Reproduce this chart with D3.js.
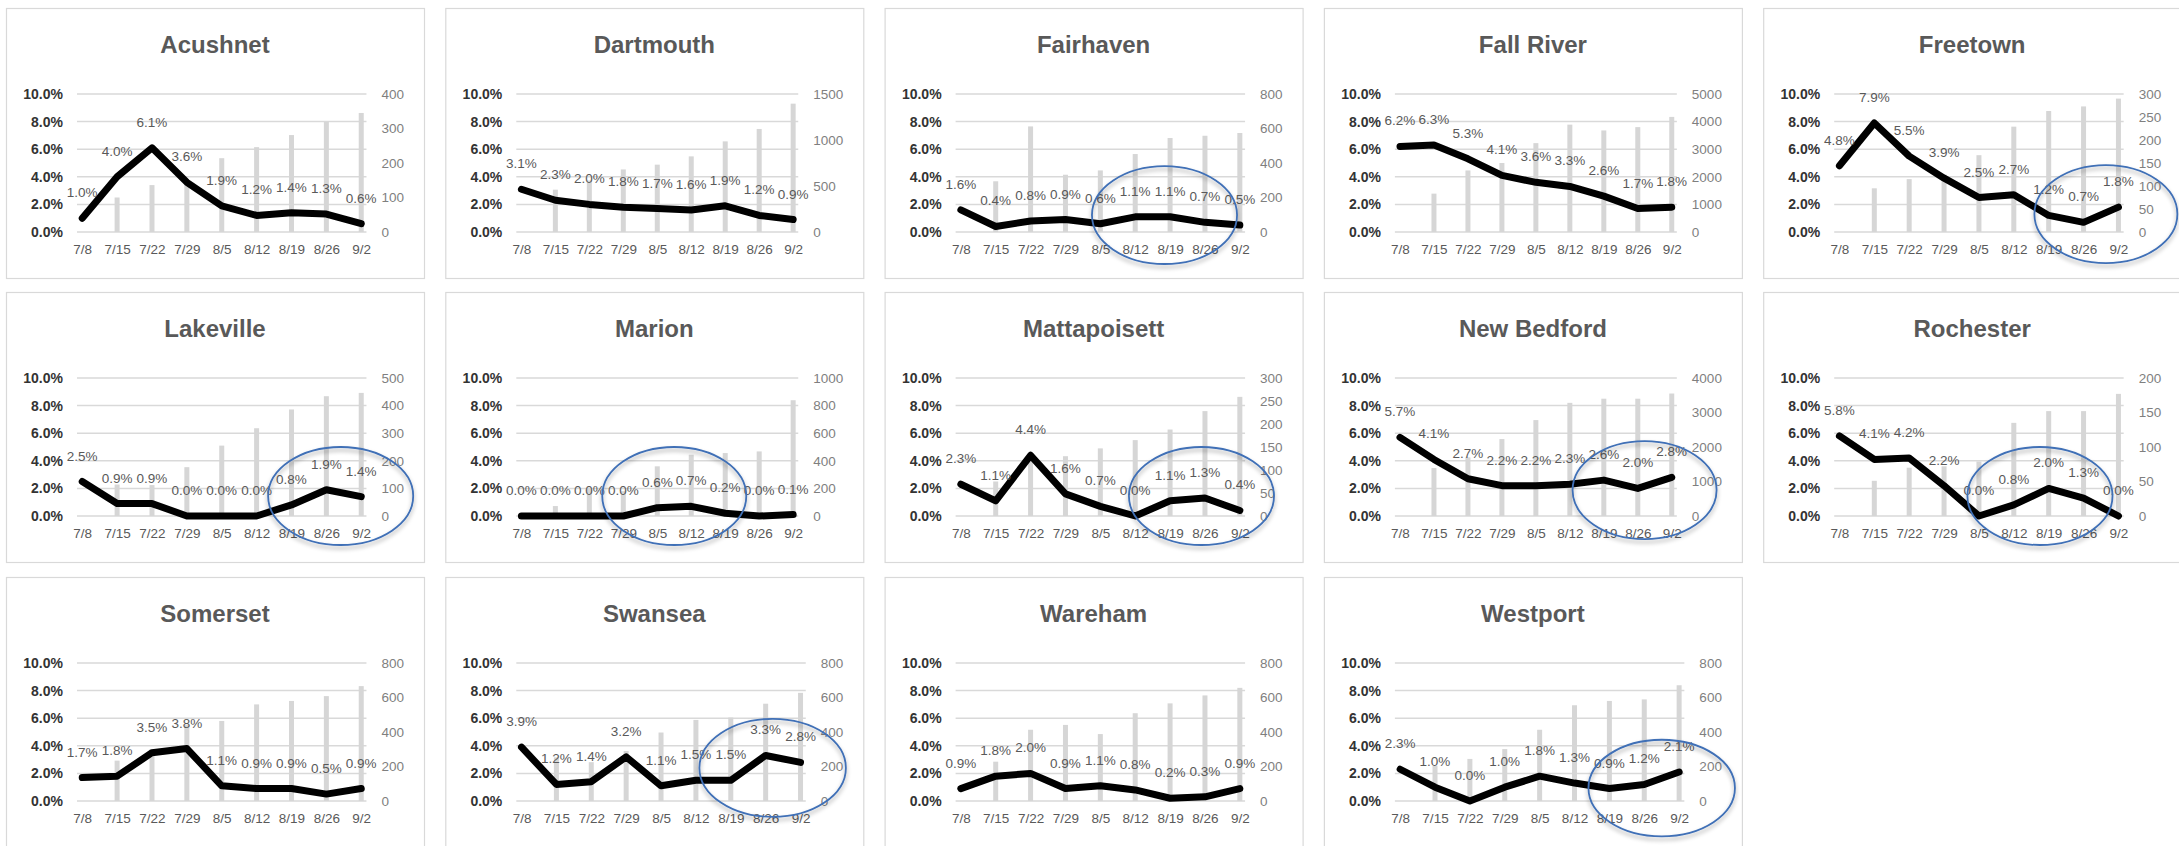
<!DOCTYPE html>
<html>
<head>
<meta charset="utf-8">
<script src="https://cdn.jsdelivr.net/npm/d3@7"></script>
<style>
  html, body { margin: 0; padding: 0; background: #fff; }
  svg { display: block; font-family: "Liberation Sans", Arial, sans-serif; }
</style>
</head>
<body>
<svg id="chart" width="2179" height="846"></svg>
<script>
// ---- data ----------------------------------------------------------------
const weeks = ["7/8", "7/15", "7/22", "7/29", "8/5", "8/12", "8/19", "8/26", "9/2"];

const towns = ["Acushnet", "Dartmouth", "Fairhaven", "Fall River", "Freetown",
               "Lakeville", "Marion", "Mattapoisett", "New Bedford", "Rochester",
               "Somerset", "Swansea", "Wareham", "Westport"];

// weekly test positivity (fraction)
const acushnetRate     = [0.010, 0.040, 0.061, 0.036, 0.019, 0.012, 0.014, 0.013, 0.006];
const dartmouthRate    = [0.031, 0.023, 0.020, 0.018, 0.017, 0.016, 0.019, 0.012, 0.009];
const fairhavenRate    = [0.016, 0.004, 0.008, 0.009, 0.006, 0.011, 0.011, 0.007, 0.005];
const fallRiverRate    = [0.062, 0.063, 0.053, 0.041, 0.036, 0.033, 0.026, 0.017, 0.018];
const freetownRate     = [0.048, 0.079, 0.055, 0.039, 0.025, 0.027, 0.012, 0.007, 0.018];
const lakevilleRate    = [0.025, 0.009, 0.009, 0.000, 0.000, 0.000, 0.008, 0.019, 0.014];
const marionRate       = [0.000, 0.000, 0.000, 0.000, 0.006, 0.007, 0.002, 0.000, 0.001];
const mattapoisettRate = [0.023, 0.011, 0.044, 0.016, 0.007, 0.000, 0.011, 0.013, 0.004];
const newBedfordRate   = [0.057, 0.041, 0.027, 0.022, 0.022, 0.023, 0.026, 0.020, 0.028];
const rochesterRate    = [0.058, 0.041, 0.042, 0.022, 0.000, 0.008, 0.020, 0.013, 0.000];
const somersetRate     = [0.017, 0.018, 0.035, 0.038, 0.011, 0.009, 0.009, 0.005, 0.009];
const swanseaRate      = [0.039, 0.012, 0.014, 0.032, 0.011, 0.015, 0.015, 0.033, 0.028];
const warehamRate      = [0.009, 0.018, 0.020, 0.009, 0.011, 0.008, 0.002, 0.003, 0.009];
const westportRate     = [0.023, 0.010, 0.000, 0.010, 0.018, 0.013, 0.009, 0.012, 0.021];

// weekly number of tests (no count for the first week)
const acushnetTests     = [null, 100, 136, 150, 214, 246, 281, 319, 345];
const dartmouthTests    = [null, 460, 560, 680, 732, 822, 985, 1120, 1395];
const fairhavenTests    = [null, 294, 612, 332, 357, 452, 545, 558, 574];
const fallRiverTests    = [null, 1390, 2230, 2500, 3220, 3890, 3680, 3800, 4170];
const freetownTests     = [null, 95, 115, 125, 167, 229, 263, 273, 290];
const lakevilleTests    = [null, 114, 112, 177, 255, 318, 386, 434, 446];
const marionTests       = [null, 72, 200, 180, 360, 444, 456, 468, 839];
const mattapoisettTests = [null, 75, 120, 130, 147, 165, 188, 228, 259];
const newBedfordTests   = [null, 1390, 1700, 2230, 2780, 3280, 3400, 3400, 3550];
const rochesterTests    = [null, 51, 70, 72, 79, 135, 152, 152, 177];
const somersetTests     = [null, 234, 300, 440, 464, 560, 580, 608, 666];
const swanseaTests      = [null, 253, 225, 290, 397, 470, 484, 564, 627];
const warehamTests      = [null, 228, 413, 441, 388, 509, 566, 612, 656];
const westportTests     = [null, 205, 244, 301, 413, 555, 580, 589, 671];

// secondary (test count) axis: maximum and tick step per town
const testAxisMax  = [400, 1500, 800, 5000, 300, 500, 1000, 300, 4000, 200, 800, 800, 800, 800];
const testAxisStep = [100, 500, 200, 1000, 50, 100, 200, 50, 1000, 50, 200, 200, 200, 200];

// primary (positivity) axis ticks
const rateTicks = [0, 0.02, 0.04, 0.06, 0.08, 0.10];

// hand-drawn highlight rings: span in week index and in positivity
const highlightTown  = ["Fairhaven", "Freetown", "Lakeville", "Marion", "Mattapoisett",
                        "New Bedford", "Rochester", "Swansea", "Westport"];
const highlightWeeks = [[3.76, 7.92], [5.59, 9.69], [5.33, 9.49], [2.38, 6.62], [4.82, 8.98],
                        [5.08, 9.32], [3.67, 7.83], [5.10, 9.30], [5.40, 9.60]];
const highlightRates = [[-0.0232, 0.0478], [-0.0225, 0.0485], [-0.0210, 0.0500], [-0.0210, 0.0500],
                        [-0.0210, 0.0500], [-0.0167, 0.0543], [-0.0210, 0.0500], [-0.0115, 0.0595],
                        [-0.0256, 0.0444]];

const rateSeries = [acushnetRate, dartmouthRate, fairhavenRate, fallRiverRate, freetownRate,
                    lakevilleRate, marionRate, mattapoisettRate, newBedfordRate, rochesterRate,
                    somersetRate, swanseaRate, warehamRate, westportRate];
const testSeries = [acushnetTests, dartmouthTests, fairhavenTests, fallRiverTests, freetownTests,
                    lakevilleTests, marionTests, mattapoisettTests, newBedfordTests, rochesterTests,
                    somersetTests, swanseaTests, warehamTests, westportTests];

// ---- layout ----------------------------------------------------------------
const panelW = 418, panelH = 270;
const panelX = col => 6 + col * 439.3;
const panelRowY = [8, 292, 577];
const plotTop = 86, plotBottom = 224, plotLeft = 71, rightLabelEnd = 398;

const svg = d3.select("#chart");

const defs = svg.append("defs");
const shadow = defs.append("filter").attr("id", "ringShadow")
  .attr("x", "-20%").attr("y", "-20%").attr("width", "140%").attr("height", "150%");
shadow.append("feDropShadow").attr("dx", 0).attr("dy", 3).attr("stdDeviation", 2.2)
  .attr("flood-color", "#000").attr("flood-opacity", 0.35);

const pct = d3.format(".1%");

// width of a text string in a given font, used to size the plot area
const measurer = svg.append("text").attr("visibility", "hidden");
function textWidth(str, size, weight) {
  measurer.attr("font-size", size).attr("font-weight", weight || "normal").text(str);
  return measurer.node().getComputedTextLength();
}

const panels = {};

towns.forEach((town, i) => {
  const col = i % 5, row = Math.floor(i / 5);
  const g = svg.append("g").attr("transform", `translate(${panelX(col)},${panelRowY[row]})`);

  g.append("rect")
    .attr("x", 0.5).attr("y", 0.5).attr("width", panelW).attr("height", panelH)
    .attr("fill", "#fff").attr("stroke", "#d9d9d9").attr("stroke-width", 1.2);

  g.append("text")
    .attr("x", panelW / 2).attr("y", 37).attr("dy", "0.35em")
    .attr("text-anchor", "middle")
    .attr("font-size", 24).attr("font-weight", "bold").attr("fill", "#595959")
    .text(town);

  const max = testAxisMax[i], step = testAxisStep[i];
  const testTicks = d3.range(0, max + step / 2, step);
  const labelW = d3.max(testTicks, t => textWidth(String(t), 13.5));
  const plotRight = rightLabelEnd - labelW - 15;

  const x = d3.scalePoint(weeks, [plotLeft, plotRight]).padding(0.15);
  const yRate = d3.scaleLinear([0, 0.10], [plotBottom, plotTop]);
  const yTests = d3.scaleLinear([0, max], [plotBottom, plotTop]);

  // gridlines
  g.append("g").selectAll("line").data(rateTicks).join("line")
    .attr("x1", plotLeft).attr("x2", plotRight)
    .attr("y1", d => yRate(d)).attr("y2", d => yRate(d))
    .attr("stroke", "#d9d9d9").attr("stroke-width", 1.5);

  // test count bars
  const rows = weeks.map((w, k) => ({ week: w, rate: rateSeries[i][k], tests: testSeries[i][k] }));
  g.append("g").selectAll("rect").data(rows.filter(d => d.tests != null)).join("rect")
    .attr("x", d => x(d.week) - 2.5).attr("width", 5)
    .attr("y", d => yTests(d.tests)).attr("height", d => yTests(0) - yTests(d.tests))
    .attr("fill", "#d6d6d6");

  // left axis (positivity)
  const left = g.append("g").attr("transform", `translate(${plotLeft},0)`)
    .call(d3.axisLeft(yRate).tickValues(rateTicks).tickFormat(pct).tickSize(0).tickPadding(14));
  left.select(".domain").remove();
  left.selectAll("text").attr("font-size", 14).attr("font-weight", "bold")
    .attr("fill", "#333").attr("font-family", null);

  // right axis (tests)
  const right = g.append("g").attr("transform", `translate(${plotRight},0)`)
    .call(d3.axisRight(yTests).tickValues(testTicks).tickFormat(d3.format("d")).tickSize(0).tickPadding(15));
  right.select(".domain").remove();
  right.selectAll("text").attr("font-size", 13.5).attr("fill", "#7f7f7f").attr("font-family", null);

  // week axis
  const bottom = g.append("g").attr("transform", `translate(0,${plotBottom})`)
    .call(d3.axisBottom(x).tickSize(0).tickPadding(12));
  bottom.select(".domain").remove();
  bottom.selectAll("text").attr("font-size", 13.5).attr("fill", "#595959").attr("font-family", null);

  // positivity line
  g.append("path")
    .datum(rows)
    .attr("d", d3.line().x(d => x(d.week)).y(d => yRate(d.rate)))
    .attr("fill", "none").attr("stroke", "#000").attr("stroke-width", 7)
    .attr("stroke-linejoin", "round").attr("stroke-linecap", "round");

  // value labels
  g.append("g").selectAll("text").data(rows).join("text")
    .attr("x", d => x(d.week)).attr("y", d => yRate(d.rate) - 21)
    .attr("text-anchor", "middle")
    .attr("font-size", 13.5).attr("fill", "#595959")
    .text(d => pct(d.rate));

  panels[town] = { g, x, yRate, step: x.step() };
});

measurer.remove();

// highlight rings drawn over the panels
highlightTown.forEach((town, j) => {
  const p = panels[town];
  const [w0, w1] = highlightWeeks[j];
  const [r0, r1] = highlightRates[j];
  const xw = idx => p.x(weeks[0]) + idx * p.step;
  const cx = (xw(w0) + xw(w1)) / 2, rx = (xw(w1) - xw(w0)) / 2;
  const cy = (p.yRate(r0) + p.yRate(r1)) / 2, ry = (p.yRate(r0) - p.yRate(r1)) / 2;
  p.g.append("ellipse")
    .attr("cx", cx).attr("cy", cy).attr("rx", rx).attr("ry", ry)
    .attr("fill", "none").attr("stroke", "#3f6fb6").attr("stroke-width", 1.8)
    .attr("filter", "url(#ringShadow)");
});
</script>
</body>
</html>
